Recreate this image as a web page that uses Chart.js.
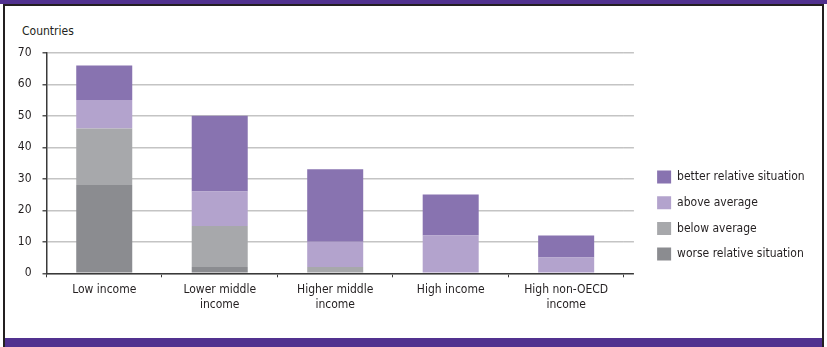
<!DOCTYPE html>
<html>
<head>
<meta charset="utf-8">
<title>Countries by income group</title>
<script src="https://cdn.jsdelivr.net/npm/chart.js@4.4.0/dist/chart.umd.min.js"></script>
<style>
  html, body { margin: 0; padding: 0; background: #fff; }
  #page { position: relative; width: 827px; height: 347px; overflow: hidden; }
  .band { position: absolute; background: #51318f; }
  #topBand { left: 0; top: 0; width: 827px; height: 4px; }
  #frame { position: absolute; left: 3px; top: 4px; width: 821px; height: 343px; box-sizing: border-box; border: 2px solid #231f20; border-bottom: none; }
  #bottomBand { left: 5px; top: 338px; width: 817px; height: 9px; }
  #chart { position: absolute; left: 0; top: 0; }
  #unit { position: absolute; left: 22px; top: 24px; line-height: 14px; font: 12px 'Liberation Sans Narrow', 'DejaVu Sans Condensed', sans-serif; color: #231f20; }
</style>
</head>
<body>
<div id="page">
  <div id="frame"></div>
  <div class="band" id="topBand"></div>
  <div class="band" id="bottomBand"></div>
  <div id="unit">Countries</div>
  <canvas id="chart" width="827" height="347"></canvas>
</div>
<script>
'use strict';

// chart data

var categories = ['Low income', ['Lower middle', 'income'], ['Higher middle', 'income'], 'High income', ['High non-OECD', 'income']];
var worseValues = [28, 2, 0, 0, 0];
var belowValues = [18, 13, 2, 0, 0];
var aboveValues = [9, 11, 8, 12, 5];
var betterValues = [11, 24, 23, 13, 7];
var seriesNames = ['worse relative situation', 'below average', 'above average', 'better relative situation'];
var seriesColors = ['#8b8c90', '#a7a8ab', '#b3a3cd', '#8873b0'];
var yTicks = [0, 10, 20, 30, 40, 50, 60, 70];

var textColor = '#231f20';
var axisColor = '#3a3a3a';
var gridColor = '#c4c4c4';
var yStep = yTicks[1] - yTicks[0];

Chart.defaults.font.family = "'Liberation Sans Narrow', 'DejaVu Sans Condensed', sans-serif";
Chart.defaults.font.size = 12;
Chart.defaults.color = textColor;

function makeDataset(i, values) {
  return {
    label: seriesNames[i],
    data: values,
    backgroundColor: seriesColors[i],
    borderWidth: 0,
    categoryPercentage: 0.485,
    barPercentage: 1
  };
}

var ctx = document.getElementById('chart').getContext('2d');

new Chart(ctx, {
  type: 'bar',
  data: {
    labels: categories,
    datasets: [
      makeDataset(0, worseValues),
      makeDataset(1, belowValues),
      makeDataset(2, aboveValues),
      makeDataset(3, betterValues)
    ]
  },
  options: {
    responsive: false,
    animation: false,
    layout: { padding: { left: 12, right: 12.3, top: 52.8, bottom: 25.7 } },
    plugins: {
      legend: {
        position: 'right',
        align: 'end',
        fullSize: false,
        reverse: true,
        maxWidth: 220,
        labels: { boxWidth: 14, boxHeight: 13, padding: 12.7, color: textColor, font: { size: 12 } }
      },
      tooltip: { enabled: false }
    },
    scales: {
      x: {
        stacked: true,
        grid: { drawOnChartArea: false, drawTicks: true, tickLength: 4, tickColor: axisColor, offset: true },
        border: { color: axisColor, width: 1.5 },
        ticks: { padding: 5.2, maxRotation: 0, autoSkip: false, font: { size: 12, lineHeight: 1.25 } },
        afterFit: function (s) { s.height = 48; }
      },
      y: {
        stacked: true,
        min: yTicks[0],
        max: yTicks[yTicks.length - 1],
        ticks: { stepSize: yStep, padding: 11 },
        grid: { color: gridColor, lineWidth: 1.5, tickLength: 4, tickColor: '#555' },
        border: { color: axisColor, width: 1.5 },
        afterFit: function (s) { s.width = 34.5; }
      },
      yRight: {
        position: 'right',
        min: yTicks[0],
        max: yTicks[yTicks.length - 1],
        ticks: { display: false, stepSize: yStep },
        grid: {
          drawOnChartArea: false,
          tickLength: 10,
          lineWidth: 1.5,
          color: function (c) { return c.tick && c.tick.value === 0 ? axisColor : gridColor; }
        },
        border: { display: false },
        afterFit: function (s) { s.width = 20.5; }
      }
    }
  }
});
</script>
</body>
</html>
